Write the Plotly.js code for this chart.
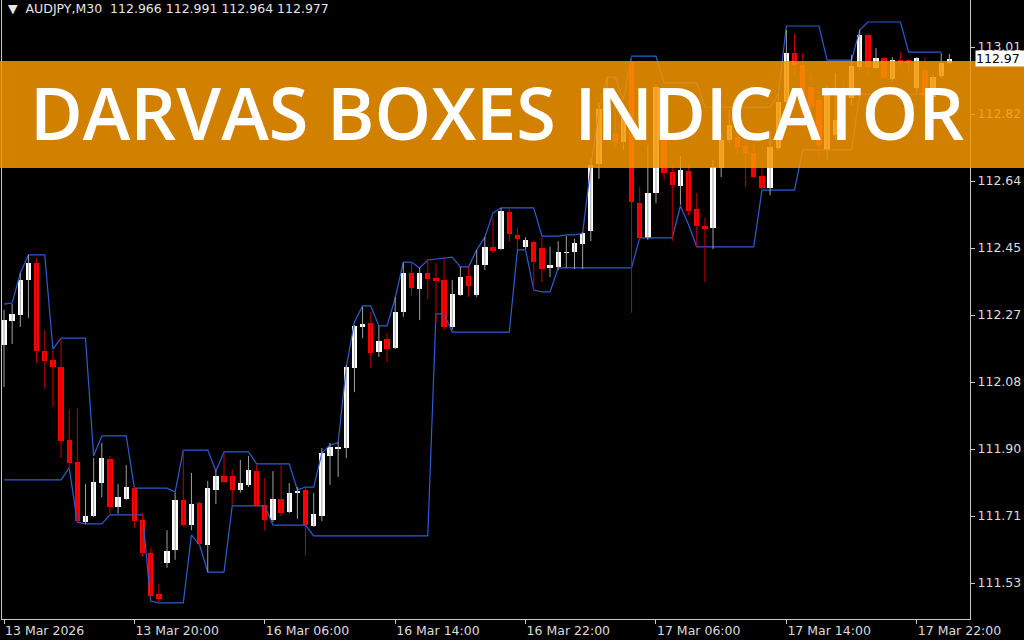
<!DOCTYPE html>
<html>
<head>
<meta charset="utf-8">
<script src="https://cdn.plot.ly/plotly-3.0.1.min.js"></script>
<style>
  html, body { margin: 0; padding: 0; background: #000; }
  #chart { width: 1024px; height: 640px; }
</style>
</head>
<body>
<div id="chart"></div>
<script>
// AUDJPY M30 candles, oldest first
const opens = [112.187,112.253,112.270,112.367,112.414,112.171,112.146,112.126,111.925,111.864,
  111.698,111.715,111.806,111.872,111.740,111.762,111.792,111.704,111.613,111.500,
  111.585,111.621,111.759,111.690,111.751,111.635,111.787,111.826,111.826,111.787,
  111.801,111.839,111.745,111.704,111.762,111.726,111.779,111.787,111.687,111.715,
  111.881,111.900,111.903,112.124,112.237,112.248,112.168,112.204,112.179,112.278,
  112.386,112.342,112.386,112.372,112.367,112.237,112.325,112.378,112.325,112.408,
  112.458,112.452,112.554,112.491,112.458,112.472,112.455,112.400,112.403,112.441,
  112.444,112.466,112.502,112.687,112.836,112.773,112.748,112.969,112.579,112.483,
  112.607,112.773,112.665,112.626,112.668,112.563,112.516,112.510,112.676,112.753,
  112.762,112.737,112.717,112.654,112.621,112.731,112.858,112.993,112.960,112.900,
  112.864,112.726,112.767,112.878,112.869,112.955,113.043,112.952,112.980,112.922,
  112.974,112.974,112.897,112.947,112.872,112.930,112.966];
const highs = [112.284,112.300,112.386,112.436,112.427,112.229,112.173,112.206,112.010,112.013,
  111.803,111.875,111.917,111.881,111.803,111.856,111.795,111.723,111.627,111.527,
  111.676,111.779,111.897,111.834,111.754,111.812,111.842,111.889,111.845,111.870,
  111.881,111.856,111.820,111.839,111.856,111.806,111.795,111.792,111.779,111.903,
  111.917,111.919,112.132,112.242,112.292,112.278,112.240,112.220,112.320,112.414,
  112.416,112.400,112.425,112.414,112.430,112.367,112.403,112.403,112.450,112.485,
  112.538,112.566,112.563,112.510,112.485,112.474,112.485,112.458,112.474,112.488,
  112.480,112.499,112.704,112.856,112.927,112.883,112.836,112.985,112.624,112.740,
  112.905,112.795,112.684,112.709,112.684,112.607,112.538,112.698,112.773,112.836,
  112.789,112.748,112.742,112.693,112.775,112.878,113.057,113.046,112.993,112.933,
  112.891,112.905,112.938,112.919,112.988,113.057,113.049,113.007,112.982,112.982,
  112.996,112.976,112.982,112.982,112.933,112.993,112.991];
const lows = [112.071,112.190,112.237,112.262,112.137,112.066,112.016,111.875,111.842,111.696,
  111.693,111.712,111.767,111.721,111.721,111.759,111.682,111.602,111.491,111.475,
  111.572,111.594,111.685,111.676,111.632,111.560,111.748,111.806,111.745,111.779,
  111.795,111.740,111.674,111.698,111.715,111.723,111.707,111.607,111.685,111.701,
  111.801,111.823,111.875,112.057,112.206,112.124,112.154,112.140,112.176,112.265,
  112.325,112.256,112.314,112.251,112.229,112.229,112.323,112.320,112.320,112.394,
  112.441,112.450,112.472,112.452,112.452,112.339,112.361,112.375,112.394,112.400,
  112.397,112.397,112.474,112.646,112.767,112.734,112.726,112.276,112.477,112.477,
  112.579,112.643,112.474,112.574,112.546,112.458,112.361,112.452,112.651,112.745,
  112.717,112.624,112.648,112.618,112.601,112.726,112.842,112.933,112.822,112.831,
  112.704,112.698,112.753,112.808,112.850,112.947,112.933,112.947,112.919,112.913,
  112.958,112.938,112.886,112.864,112.864,112.925,112.964];
const closes = [112.256,112.273,112.367,112.414,112.171,112.143,112.126,111.922,111.861,111.701,
  111.715,111.809,111.875,111.740,111.767,111.795,111.701,111.613,111.494,111.486,
  111.618,111.759,111.690,111.748,111.638,111.792,111.826,111.809,111.787,111.806,
  111.842,111.743,111.704,111.762,111.723,111.779,111.784,111.690,111.721,111.889,
  111.906,111.906,112.126,112.240,112.245,112.165,112.198,112.176,112.278,112.386,
  112.345,112.386,112.369,112.364,112.237,112.328,112.375,112.350,112.408,112.458,
  112.447,112.557,112.494,112.480,112.477,112.416,112.397,112.408,112.444,112.444,
  112.469,112.496,112.684,112.839,112.856,112.745,112.817,112.582,112.483,112.607,
  112.900,112.662,112.629,112.670,112.557,112.516,112.507,112.679,112.753,112.795,
  112.734,112.717,112.651,112.621,112.734,112.858,112.993,112.960,112.864,112.844,
  112.740,112.886,112.808,112.836,112.958,113.043,112.955,112.980,112.925,112.974,
  112.966,112.966,112.980,112.872,112.927,112.966,112.977];

// Darvas box top / bottom per bar
const boxTop = [112.300,112.303,112.386,112.436,112.436,112.436,112.176,112.206,112.206,112.206,
  112.206,111.881,111.936,111.936,111.936,111.936,111.792,111.792,111.792,111.792,
  111.792,111.781,111.897,111.897,111.897,111.897,111.839,111.892,111.892,111.892,
  111.892,111.859,111.859,111.859,111.859,111.859,111.787,111.795,111.795,111.889,
  111.911,111.917,112.126,112.251,112.295,112.295,112.240,112.240,112.317,112.416,
  112.416,112.400,112.422,112.425,112.427,112.430,112.403,112.403,112.450,112.485,
  112.552,112.566,112.566,112.566,112.566,112.566,112.488,112.488,112.488,112.491,
  112.491,112.496,112.679,112.839,112.927,112.927,112.864,112.985,112.985,112.985,
  112.985,112.911,112.911,112.911,112.911,112.911,112.844,112.844,112.844,112.844,
  112.844,112.844,112.844,112.844,112.844,112.878,113.068,113.068,113.068,113.068,
  113.068,112.974,112.974,112.974,112.974,113.057,113.079,113.079,113.079,113.079,
  113.079,112.996,112.996,112.996,112.996,112.996,null];
const boxBottom = [111.815,111.815,111.815,111.815,111.815,111.815,111.815,111.815,111.848,111.698,
  111.693,111.693,111.693,111.718,111.718,111.718,111.718,111.718,111.480,111.475,
  111.475,111.475,111.475,111.663,111.635,111.560,111.560,111.560,111.743,111.743,
  111.743,111.743,111.743,111.690,111.690,111.690,111.690,111.690,111.660,111.660,
  111.660,111.660,111.660,111.660,111.660,111.660,111.660,111.660,111.660,111.660,
  111.660,111.660,111.660,112.273,112.273,112.223,112.223,112.223,112.223,112.223,
  112.223,112.223,112.223,112.450,112.450,112.339,112.334,112.334,112.400,112.400,
  112.400,112.400,112.400,112.400,112.400,112.400,112.400,112.400,112.483,112.483,
  112.483,112.483,112.483,112.571,112.519,112.458,112.458,112.458,112.458,112.458,
  112.458,112.458,112.458,112.615,112.615,112.615,112.615,112.615,112.726,112.726,
  112.726,112.726,112.726,112.726,112.726,112.880,112.880,112.880,112.880,112.880,
  112.880,112.880,112.880,112.880,112.880,112.880,null];

const timeTicks = [0,16,32,48,64,80,96,112];
const timeLabels = ['13 Mar 2026','13 Mar 20:00','16 Mar 06:00','16 Mar 14:00',
  '16 Mar 22:00','17 Mar 06:00','17 Mar 14:00','17 Mar 22:00'];
const priceTicks = [111.530,111.715,111.900,112.085,112.270,112.455,112.640,112.825,113.010];
const priceLabels = ['111.53','111.71','111.90','112.08','112.27','112.45','112.64','112.82','113.01'];

const symbolLine = 'AUDJPY,M30  112.966 112.991 112.964 112.977';
const bidPrice = 112.977;
const bidLabel = '112.97';
const bannerText = 'DARVAS BOXES INDICATOR';

// split candles into bullish / bearish parts
const idx = opens.map((_, i) => i);
const bull = idx.filter(i => closes[i] >= opens[i]);
const bear = idx.filter(i => closes[i] < opens[i]);

function wickTrace(ids, color) {
  const x = [], y = [];
  ids.forEach(i => { x.push(i, i, null); y.push(lows[i], highs[i], null); });
  return { type: 'scatter', mode: 'lines', x, y, hoverinfo: 'skip',
           line: { color, width: 1 } };
}
function bodyTrace(ids, color) {
  return {
    type: 'bar', x: ids,
    base: ids.map(i => Math.min(opens[i], closes[i])),
    y: ids.map(i => Math.max(Math.abs(closes[i] - opens[i]), 0.0012)),
    width: 0.66, marker: { color, line: { width: 0 } }, hoverinfo: 'skip'
  };
}
function boxLine(vals) {
  return { type: 'scatter', mode: 'lines', x: idx, y: vals, hoverinfo: 'skip',
           line: { color: '#2f5bd3', width: 1.2 }, connectgaps: false };
}

const traces = [
  boxLine(boxTop),
  boxLine(boxBottom),
  wickTrace(bull, '#a0a0a0'),
  wickTrace(bear, '#c00000'),
  bodyTrace(bull, '#ffffff'),
  bodyTrace(bear, '#ff0000')
];

const axisFont = { family: 'DejaVu Sans, sans-serif', size: 12.5, color: '#dcdcdc' };

const layout = {
  width: 1024, height: 640,
  margin: { l: 2, r: 54, t: 0, b: 21, pad: 0 },
  paper_bgcolor: '#000', plot_bgcolor: '#000',
  showlegend: false, barmode: 'overlay', bargap: 0,
  xaxis: {
    range: [-0.245, 118.53], tickmode: 'array', tickvals: timeTicks, ticktext: timeLabels,
    ticks: 'outside', ticklen: 4, tickcolor: '#c8c8c8', ticklabelposition: 'outside right',
    showgrid: false, zeroline: false, showline: true, linecolor: '#c8c8c8', mirror: true,
    tickfont: axisFont, fixedrange: true
  },
  yaxis: {
    side: 'right', range: [111.4306, 113.1398], tickmode: 'array',
    tickvals: priceTicks, ticktext: priceLabels,
    ticks: 'outside', ticklen: 4, tickcolor: '#c8c8c8',
    showgrid: false, zeroline: false, showline: true, linecolor: '#c8c8c8', mirror: true,
    tickfont: axisFont, fixedrange: true
  },
  shapes: [{
    type: 'rect', layer: 'above', xref: 'paper', yref: 'paper',
    x0: -0.01, x1: 1.06, y0: 0.7286, y1: 0.9015,
    fillcolor: 'rgba(246,150,0,0.85)', line: { width: 0 }
  }],
  annotations: [
    { xref: 'paper', yref: 'paper', x: 0.004, y: 0.987, xanchor: 'left', yanchor: 'middle',
      text: '▼  ' + symbolLine, showarrow: false,
      font: { family: 'DejaVu Sans, sans-serif', size: 12.5, color: '#e6e6e6' } },
    { xref: 'paper', yref: 'y', x: 1.005, y: bidPrice, xanchor: 'left', yanchor: 'middle',
      text: bidLabel, showarrow: false, bgcolor: '#ffffff', borderpad: 0,
      width: 52, align: 'left',
      font: { family: 'DejaVu Sans, sans-serif', size: 12.5, color: '#000000' } },
    { xref: 'paper', yref: 'paper', x: 0.5114, y: 0.819, xanchor: 'center', yanchor: 'middle',
      text: bannerText, showarrow: false,
      font: { family: 'Open Sans, sans-serif', size: 72, weight: 600, color: '#ffffff' } }
  ]
};

Plotly.newPlot('chart', traces, layout, { staticPlot: true, displayModeBar: false });
</script>
</body>
</html>
